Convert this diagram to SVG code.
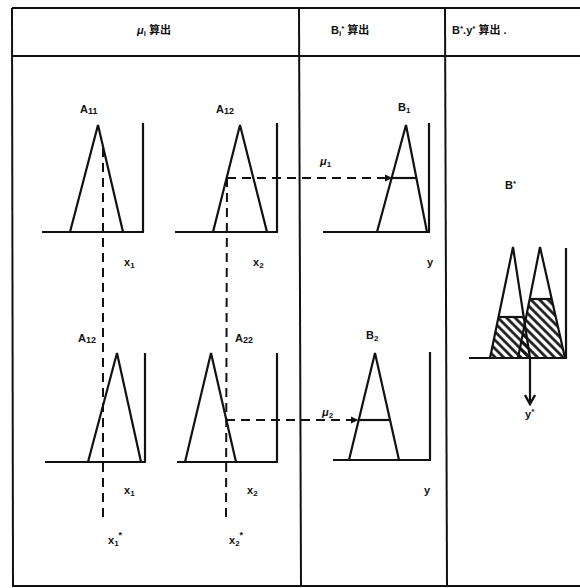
<svg xmlns="http://www.w3.org/2000/svg" width="580" height="588" viewBox="0 0 580 588">
<style>
  .frame{stroke:#111;stroke-width:2;fill:none}
  .shape{stroke:#111;stroke-width:2.2;fill:none;stroke-linejoin:miter}
  .axis{stroke:#111;stroke-width:2.2;fill:none}
  .dash{stroke:#111;stroke-width:2;fill:none;stroke-dasharray:9,6}
  .lbl{font-family:"Liberation Sans","Noto Sans CJK SC",sans-serif;font-size:11px;font-weight:bold;fill:#111}
  .hdr{font-family:"Liberation Sans","Noto Sans CJK SC",sans-serif;font-size:11px;font-weight:bold;fill:#111}
</style>
<defs>
  <pattern id="hatch" patternUnits="userSpaceOnUse" width="6" height="6" patternTransform="rotate(-45)">
    <line x1="1.5" y1="0" x2="1.5" y2="6" stroke="#111" stroke-width="2.6"/>
  </pattern>
  <marker id="arr" markerWidth="8" markerHeight="8" refX="7" refY="4" orient="auto" markerUnits="userSpaceOnUse">
    <path d="M0,0.5 L7.5,4 L0,7.5 Z" fill="#111"/>
  </marker>
  <marker id="vee" markerWidth="12" markerHeight="12" refX="10" refY="6" orient="auto" markerUnits="userSpaceOnUse">
    <path d="M1,1 L10,6 L1,11" fill="none" stroke="#111" stroke-width="2.4"/>
  </marker>
</defs>
<rect width="580" height="588" fill="#fff"/>

<g id="table">
  <line class="frame" x1="12" y1="8" x2="580" y2="8"/>
  <line class="frame" x1="12" y1="56" x2="580" y2="56"/>
  <line class="frame" x1="12" y1="586" x2="580" y2="586"/>
  <line class="frame" x1="12" y1="8" x2="13" y2="586"/>
  <line class="frame" x1="299" y1="8" x2="301" y2="586"/>
  <line class="frame" x1="445" y1="8" x2="447" y2="586"/>
</g>

<g id="header">
  <text class="hdr" x="137" y="34"><tspan font-style="italic">μ</tspan><tspan font-size="8" dy="2">i</tspan><tspan dy="-2"> 算出</tspan></text>
  <text class="hdr" x="331" y="34">B<tspan font-size="8" dy="2">i</tspan><tspan dy="-5" font-size="8">*</tspan><tspan dy="3"> 算出</tspan></text>
  <text class="hdr" x="452" y="34">B<tspan dy="-3" font-size="8">*</tspan><tspan dy="3">.y</tspan><tspan dy="-3" font-size="8">*</tspan><tspan dy="3"> 算出 .</tspan></text>
</g>

<g id="panel-A11">
  <text class="lbl" x="80" y="113">A<tspan font-size="9" dy="1">11</tspan></text>
  <polyline class="shape" points="70,232 98,125 123,232"/>
  <line class="axis" x1="42" y1="232" x2="144" y2="232"/>
  <line class="axis" x1="143" y1="123" x2="143" y2="232"/>
  <text class="lbl" x="124" y="266">x<tspan font-size="8" dy="2">1</tspan></text>
</g>

<g id="panel-A12-top">
  <text class="lbl" x="216" y="113">A<tspan font-size="9" dy="1">12</tspan></text>
  <polyline class="shape" points="213,232 240,125 267,232"/>
  <line class="axis" x1="175" y1="232" x2="278" y2="232"/>
  <line class="axis" x1="277" y1="123" x2="277" y2="232"/>
  <text class="lbl" x="253" y="266">x<tspan font-size="8" dy="2">2</tspan></text>
</g>

<g id="panel-B1">
  <text class="lbl" x="398" y="111">B<tspan font-size="8" dy="2">1</tspan></text>
  <polyline class="shape" points="377,232 406,125 427,232"/>
  <line class="shape" x1="392" y1="178" x2="416" y2="178"/>
  <line class="axis" x1="323" y1="232" x2="430" y2="232"/>
  <line class="axis" x1="429" y1="123" x2="429" y2="232"/>
  <text class="lbl" x="320" y="165"><tspan font-style="italic">μ</tspan><tspan font-size="8" dy="2">1</tspan></text>
  <text class="lbl" x="427" y="266">y</text>
</g>

<g id="panel-A12-bottom">
  <text class="lbl" x="78" y="342">A<tspan font-size="9" dy="1">12</tspan></text>
  <polyline class="shape" points="88,462 117,353 141,462"/>
  <line class="axis" x1="45" y1="462" x2="146" y2="462"/>
  <line class="axis" x1="145" y1="353" x2="145" y2="462"/>
  <text class="lbl" x="124" y="494">x<tspan font-size="8" dy="2">1</tspan></text>
  <text class="lbl" x="108" y="544">x<tspan font-size="8" dy="2">1</tspan><tspan dy="-8" font-size="9">*</tspan></text>
</g>

<g id="panel-A22">
  <text class="lbl" x="235" y="342">A<tspan font-size="9" dy="1">22</tspan></text>
  <polyline class="shape" points="185,462 211,353 236,462"/>
  <line class="axis" x1="177" y1="462" x2="278" y2="462"/>
  <line class="axis" x1="277" y1="353" x2="277" y2="462"/>
  <text class="lbl" x="247" y="494">x<tspan font-size="8" dy="2">2</tspan></text>
  <text class="lbl" x="229" y="544">x<tspan font-size="8" dy="2">2</tspan><tspan dy="-8" font-size="9">*</tspan></text>
</g>

<g id="panel-B2">
  <text class="lbl" x="366" y="339">B<tspan font-size="8" dy="2">2</tspan></text>
  <polyline class="shape" points="349,460 375,353 399,460"/>
  <line class="shape" x1="359" y1="420" x2="390" y2="420"/>
  <line class="axis" x1="333" y1="460" x2="431" y2="460"/>
  <line class="axis" x1="430" y1="352" x2="430" y2="460"/>
  <text class="lbl" x="322" y="416"><tspan font-style="italic">μ</tspan><tspan font-size="8" dy="2">2</tspan></text>
  <text class="lbl" x="424" y="494">y</text>
</g>

<g id="panel-Bstar">
  <text class="lbl" x="505" y="189">B<tspan dy="-3" font-size="8">*</tspan></text>
  <polygon points="490,358 498.5,317 523.7,317 530,358" fill="url(#hatch)"/>
  <polygon points="518,358 529.7,299 551.7,299 565,358" fill="url(#hatch)"/>
  <polyline class="shape" points="490,358 513,247 530,358"/>
  <polyline class="shape" points="518,358 540,247 565,358"/>
  <line class="shape" x1="498.5" y1="317" x2="523.7" y2="317"/>
  <line class="shape" x1="529.7" y1="299" x2="551.7" y2="299"/>
  <line class="axis" x1="469" y1="358" x2="567" y2="358"/>
  <line class="axis" x1="566" y1="248" x2="566" y2="358"/>
  <text class="lbl" x="525" y="418">y<tspan dy="-4" font-size="8">*</tspan></text>
</g>

<g id="connectors">
  <line class="dash" x1="103" y1="148" x2="103" y2="522"/>
  <line class="dash" x1="227" y1="178" x2="226" y2="518"/>
  <line class="dash" x1="227" y1="178" x2="392" y2="178" marker-end="url(#arr)"/>
  <line class="dash" x1="226" y1="420" x2="358" y2="420" marker-end="url(#arr)"/>
  <line class="axis" x1="530" y1="358" x2="530" y2="404" marker-end="url(#vee)"/>
</g>
</svg>
